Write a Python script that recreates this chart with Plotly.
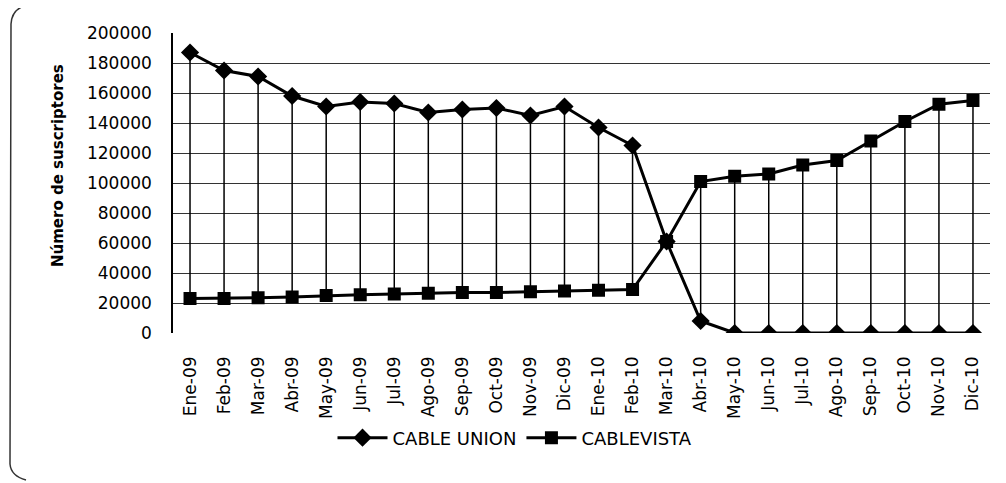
import plotly.graph_objects as go

categories = ["Ene-09", "Feb-09", "Mar-09", "Abr-09", "May-09", "Jun-09", "Jul-09", "Ago-09",
              "Sep-09", "Oct-09", "Nov-09", "Dic-09", "Ene-10", "Feb-10", "Mar-10", "Abr-10",
              "May-10", "Jun-10", "Jul-10", "Ago-10", "Sep-10", "Oct-10", "Nov-10", "Dic-10"]
cable_union = [187000, 175000, 171000, 158000, 151000, 154000, 153000, 147000,
               149000, 150000, 145000, 151000, 137000, 125000, 61000, 8000,
               0, 0, 0, 0, 0, 0, 0, 0]
cablevista = [23000, 23000, 23500, 24000, 25000, 25500, 26000, 26500,
              27000, 27000, 27500, 28000, 28500, 29000, 61000, 101000,
              104500, 106000, 112000, 115000, 128000, 141000, 152500, 155000]

font_family = "DejaVu Sans, sans-serif"

# high-low lines between the two series
hl_x, hl_y = [], []
for c, a, b in zip(categories, cable_union, cablevista):
    hl_x += [c, c, None]
    hl_y += [max(a, b), min(a, b), None]

fig = go.Figure()
fig.add_trace(go.Scatter(x=hl_x, y=hl_y, mode="lines", line=dict(color="black", width=1.5),
                         showlegend=False, hoverinfo="skip"))
fig.add_trace(go.Scatter(x=categories, y=cable_union, name="CABLE UNION", mode="lines+markers",
                         line=dict(color="black", width=3),
                         marker=dict(symbol="diamond", size=14, color="black")))
fig.add_trace(go.Scatter(x=categories, y=cablevista, name="CABLEVISTA", mode="lines+markers",
                         line=dict(color="black", width=3),
                         marker=dict(symbol="square", size=13, color="black")))

OFF = 8  # page body margin offset
L, R, T, B = 173 - OFF, 990 - OFF, 33 - OFF, 333 - OFF
def px(x):
    return (x - OFF - L) / (R - L)
def py(y):
    return (B - (y - OFF)) / (B - T)

# partial rounded border on the left
path = (f"M {px(28)},{py(5)} Q {px(12)},{py(8)} {px(11)},{py(24)} "
        f"L {px(10)},{py(464)} Q {px(11)},{py(476)} {px(26)},{py(480)}")
fig.add_shape(type="path", xref="paper", yref="paper", path=path,
              line=dict(color="#333", width=1.5))

fig.add_annotation(text="<b>Número de suscriptores</b>", xref="paper", yref="paper",
                   x=px(58), y=py(166), xanchor="center", yanchor="middle",
                   textangle=-90, showarrow=False,
                   font=dict(size=15, family=font_family, color="black"))

fig.update_layout(
    width=1006, height=483,
    margin=dict(l=L, r=1006 - R, t=T, b=483 - B),
    paper_bgcolor="white", plot_bgcolor="white",
    font=dict(family=font_family, color="black", size=17),
    showlegend=True,
    legend=dict(orientation="h", x=px(515), xanchor="center", y=py(438), yanchor="middle",
                font=dict(size=18, family=font_family), itemwidth=50),
    xaxis=dict(type="category", tickangle=-90, showgrid=False, showline=False, ticks="",
               tickfont=dict(size=17), range=[-0.5, 23.5], ticklabelstandoff=19),
    yaxis=dict(range=[0, 200000], dtick=20000, tickformat="d", showgrid=True,
               gridcolor="#333", gridwidth=1, showline=True, linecolor="black",
               linewidth=1.5, zeroline=False, ticks="", tickfont=dict(size=17),
               ticklabelstandoff=16),
)

fig.write_html("out.html")
